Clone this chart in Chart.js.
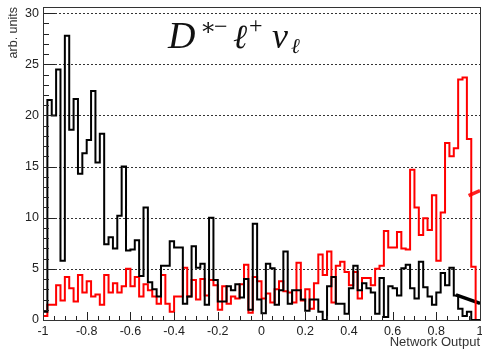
<!DOCTYPE html>
<html>
<head>
<meta charset="utf-8">
<script src="https://cdn.jsdelivr.net/npm/chart.js@4/dist/chart.umd.min.js"></script>
<style>
  html, body { margin: 0; padding: 0; background: #fff; }
  #c { display: block; }
</style>
</head>
<body>
<canvas id="c" width="482" height="350"></canvas>
<script>
// ── Data ───────────────────────────────────────────────────
const X_MIN     = -1;
const X_MAX     = 1;
const BIN_WIDTH = 0.02;

// 100 bins, -1 … 1
const blackCounts = [
  0.8, 21.5, 20.0, 24.5, 5.8, 27.8, 18.6, 21.6, 14.3, 16.3,
  17.6, 22.4, 15.4, 18.2, 7.4, 8.1, 7.0, 10.2, 15.0, 6.8,
  6.9, 7.8, 4.3, 11.0, 3.7, 3.0, 2.3, 5.3, 5.3, 7.7,
  7.1, 7.1, 1.6, 2.3, 7.2, 5.1, 5.5, 1.5, 10.0, 3.9,
  1.8, 1.8, 3.3, 2.9, 3.5, 2.2, 4.0, 1.0, 9.4, 2.0,
  0.65, 5.5, 5.05, 1.5, 2.9, 6.7, 1.6, 2.9, 2.9, 2.0,
  0.9, 2.0, 2.0, 0.8, 0.0, 3.3, 4.2, 1.6, 1.6, 0.6,
  3.1, 5.3, 2.9, 3.6, 3.1, 2.7, 0.6, 4.1, 0.3, 3.3,
  3.1, 2.4, 5.05, 5.4, 3.1, 2.1, 5.7, 3.2, 2.3, 1.5,
  2.7, 4.6, 3.4, 5.1, 2.4, 1.1, 0.4, 0.8, 0.0, 0.0,
];

const redCounts = [
  0.4, 1.5, 1.5, 3.4, 1.9, 4.2, 3.1, 1.8, 4.4, 2.7,
  3.8, 2.3, 2.5, 1.5, 4.4, 2.7, 3.6, 2.7, 3.3, 5.0,
  3.3, 4.2, 2.3, 3.5, 2.9, 2.3, 1.6, 4.4, 1.6, 0.8,
  2.3, 2.3, 5.1, 2.3, 3.9, 2.0, 4.0, 2.4, 3.9, 3.4,
  1.0, 3.3, 1.6, 2.3, 2.1, 3.5, 5.4, 0.7, 4.2, 3.8,
  2.1, 2.6, 1.7, 3.0, 3.8, 2.8, 2.7, 1.7, 5.6, 1.9,
  3.0, 1.1, 3.6, 6.4, 4.4, 6.7, 1.7, 5.3, 5.7, 4.7,
  3.4, 4.7, 2.1, 4.1, 4.1, 3.4, 5.0, 5.3, 8.7, 7.1,
  7.1, 8.6, 7.0, 6.9, 14.7, 11.0, 8.3, 9.95, 8.8, 12.2,
  5.8, 10.5, 17.3, 16.0, 16.8, 23.5, 23.7, 17.7, 5.2, 0.0,
];

// fitted curves near the upper end (x, y)
const blackFitX = [0.89, 1.0];
const blackFitY = [2.45, 1.62];
const redFitX   = [0.948, 1.0];
const redFitY   = [12.15, 12.65];

const yTickValues = [0, 5, 10, 15, 20, 25, 30];
const yGridValues = [5, 10, 15, 20, 25, 30];
const Y_MAX = 30.6;

// ── Helpers ────────────────────────────────────────────────
// histogram outline as step points: (-1,0), left edges, (1,0)
function histPoints(counts) {
    const pts = [{ x: X_MIN, y: 0 }];
    counts.forEach((v, i) => pts.push({ x: X_MIN + i * BIN_WIDTH, y: v }));
    pts.push({ x: X_MAX, y: 0 });
    return pts;
}
const fitPoints = (xs, ys) => xs.map((x, i) => ({ x, y: ys[i] }));

const fmtX = v => String(Math.round(v * 10) / 10);

// ── Plugin: frame, dotted grid, inside ticks, texts ───────
const rootStyle = {
    id: 'rootStyle',
    beforeDatasetsDraw(chart) {
        const { ctx, chartArea: a, scales: { y } } = chart;
        ctx.save();
        ctx.strokeStyle = '#333';
        ctx.lineWidth = 1;
        ctx.setLineDash([2, 2]);
        yGridValues.forEach(v => {
            const py = Math.round(y.getPixelForValue(v)) + 0.5;
            ctx.beginPath();
            ctx.moveTo(a.left, py);
            ctx.lineTo(a.right, py);
            ctx.stroke();
        });
        ctx.restore();
    },
    afterDatasetsDraw(chart) {
        const { ctx, chartArea: a, scales: { x, y } } = chart;
        ctx.save();
        ctx.strokeStyle = '#222';
        ctx.lineWidth = 1;

        // y ticks (inside, every unit; major every 5)
        for (let v = 0; v <= 30; v++) {
            const py = Math.round(y.getPixelForValue(v)) + 0.5;
            const len = v % 5 === 0 ? 12 : 6;
            ctx.beginPath();
            ctx.moveTo(a.left, py);
            ctx.lineTo(a.left + len, py);
            ctx.stroke();
        }
        // x ticks (inside, every 0.05; major every 0.2)
        for (let i = 0; i <= 40; i++) {
            const px = Math.round(x.getPixelForValue(X_MIN + i * 0.05)) + 0.5;
            const len = i % 4 === 0 ? 8 : 4;
            ctx.beginPath();
            ctx.moveTo(px, a.bottom);
            ctx.lineTo(px, a.bottom - len);
            ctx.stroke();
        }

        // frame
        ctx.strokeStyle = '#333';
        ctx.strokeRect(a.left + 0.5, a.top + 0.5, a.right - a.left, a.bottom - a.top);

        // axis titles
        ctx.fillStyle = '#333';
        ctx.font = '13px "Liberation Sans", Arial, sans-serif';
        ctx.textAlign = 'right';
        ctx.textBaseline = 'alphabetic';
        ctx.fillText('Network Output', 480, 346);

        ctx.save();
        ctx.translate(17, 7);
        ctx.rotate(-Math.PI / 2);
        ctx.font = '12.5px "Liberation Sans", Arial, sans-serif';
        ctx.fillText('arb. units', 0, 0);
        ctx.restore();

        // title D*− ℓ+ νℓ
        const serif = '"Liberation Serif", "DejaVu Serif", serif';
        const pieces = [
            { t: 'D', font: `italic 38px ${serif}`, x: 168, dy: 0 },
            { t: '∗', font: `24px ${serif}`,        x: 200, dy: -13 },
            { t: '−', font: `24px ${serif}`,        x: 214, dy: -14 },
            { t: 'ℓ', font: `italic 34px ${serif}`, x: 233, dy: 0 },
            { t: '+', font: `24px ${serif}`,        x: 249, dy: -15 },
            { t: 'ν', font: `italic 36px ${serif}`, x: 272, dy: 0 },
            { t: 'ℓ', font: `italic 21px ${serif}`, x: 291, dy: 5 },
        ];
        const base = 48;
        ctx.fillStyle = '#111';
        ctx.textAlign = 'left';
        pieces.forEach(p => {
            ctx.font = p.font;
            ctx.fillText(p.t, p.x, base + p.dy);
        });

        ctx.restore();
    },
};

// ── Chart ──────────────────────────────────────────────────
new Chart(document.getElementById('c').getContext('2d'), {
    type: 'line',
    data: {
        datasets: [
            {
                label: 'black',
                data: histPoints(blackCounts),
                borderColor: '#000',
                borderWidth: 2,
                stepped: 'before',
                pointRadius: 0,
                fill: false,
            },
            {
                label: 'red',
                data: histPoints(redCounts),
                borderColor: '#ff0000',
                borderWidth: 2,
                stepped: 'before',
                pointRadius: 0,
                fill: false,
            },
            {
                label: 'black fit',
                data: fitPoints(blackFitX, blackFitY),
                borderColor: '#000',
                borderWidth: 3.5,
                pointRadius: 0,
            },
            {
                label: 'red fit',
                data: fitPoints(redFitX, redFitY),
                borderColor: '#ff2020',
                borderWidth: 3.5,
                pointRadius: 0,
            },
        ],
    },
    options: {
        responsive: false,
        animation: false,
        devicePixelRatio: 1,
        layout: { padding: { top: 7, right: 2, left: 0, bottom: 0 } },
        plugins: { legend: { display: false }, tooltip: { enabled: false } },
        scales: {
            x: {
                type: 'linear',
                min: X_MIN,
                max: X_MAX,
                grid: { display: false, drawTicks: false },
                border: { display: false },
                ticks: {
                    stepSize: 0.2,
                    autoSkip: false,
                    maxRotation: 0,
                    padding: 4,
                    color: '#222',
                    font: { size: 12.5, family: '"Liberation Sans", Arial, sans-serif' },
                    callback: fmtX,
                },
                afterFit: s => { s.height = 30; s.paddingLeft = 0; s.paddingRight = 0; },
            },
            y: {
                min: 0,
                max: Y_MAX,
                grid: { display: false, drawTicks: false },
                border: { display: false },
                afterBuildTicks: s => { s.ticks = yTickValues.map(v => ({ value: v })); },
                ticks: {
                    stepSize: 5,
                    padding: 4,
                    color: '#222',
                    font: { size: 12.5, family: '"Liberation Sans", Arial, sans-serif' },
                },
                afterFit: s => { s.width = 43; s.paddingTop = 0; s.paddingBottom = 0; },
            },
        },
    },
    plugins: [rootStyle],
});
</script>
</body>
</html>
